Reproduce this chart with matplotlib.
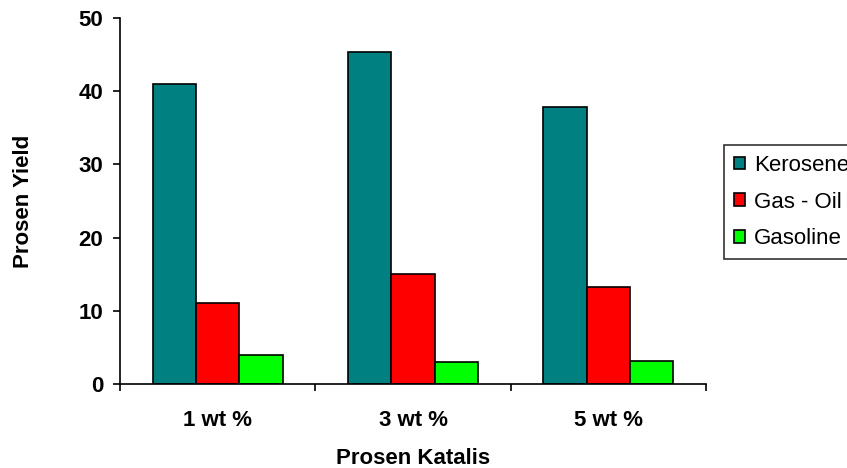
import matplotlib
matplotlib.use("Agg")
import matplotlib.pyplot as plt
import numpy as np

plt.rcParams['font.family'] = ['Liberation Sans', 'DejaVu Sans']

categories = ['1 wt %', '3 wt %', '5 wt %']
kerosene = [41.0, 45.3, 37.9]
gas_oil = [11.0, 15.0, 13.3]
gasoline = [3.9, 3.0, 3.2]
series = [("Kerosene", kerosene, '#008080'),
          ("Gas - Oil", gas_oil, '#FF0000'),
          ("Gasoline", gasoline, '#00FF00')]

fig = plt.figure(figsize=(8.47, 4.68), dpi=100)
ax = fig.add_axes([120/847, 1-384/468, (706-120)/847, (384-18)/468])

x = np.arange(len(categories))
w = 0.222
for i, (name, vals, col) in enumerate(series):
    ax.bar(x + (i-1)*w, vals, w, color=col, edgecolor='black', linewidth=1.2, label=name)

ax.set_xlim(-0.5, 2.5)
ax.set_ylim(0, 50)
ax.set_yticks([0, 10, 20, 30, 40, 50])
ax.set_xticks(x)
ax.set_xticklabels(categories)
ax.set_xticks(np.arange(-0.5, 3, 1), minor=True)
ax.tick_params(axis='x', which='major', length=0, pad=19, labelsize=16)
ax.tick_params(axis='x', which='minor', length=5, width=1.2, direction='out')
ax.tick_params(axis='y', length=5, width=1.2, pad=7, labelsize=16)
for lab in ax.get_xticklabels() + ax.get_yticklabels():
    lab.set_fontweight('bold')
for s in ['top', 'right']:
    ax.spines[s].set_visible(False)
for s in ['left', 'bottom']:
    ax.spines[s].set_linewidth(1.2)

ax.set_xlabel("Prosen Katalis", fontsize=16, fontweight='bold', labelpad=12)
ax.set_ylabel("Prosen Yield", fontsize=16, fontweight='bold', labelpad=32)

leg = fig.legend(loc='upper left', bbox_to_anchor=(724/847, 1-145/468), fontsize=16,
                 frameon=True, fancybox=False, edgecolor='black', handlelength=0.5,
                 handleheight=0.5, handletextpad=0.4, labelspacing=0.7, borderpad=0.45,
                 borderaxespad=0)
leg.get_frame().set_linewidth(1.2)

fig.savefig("out.png", dpi=100)
